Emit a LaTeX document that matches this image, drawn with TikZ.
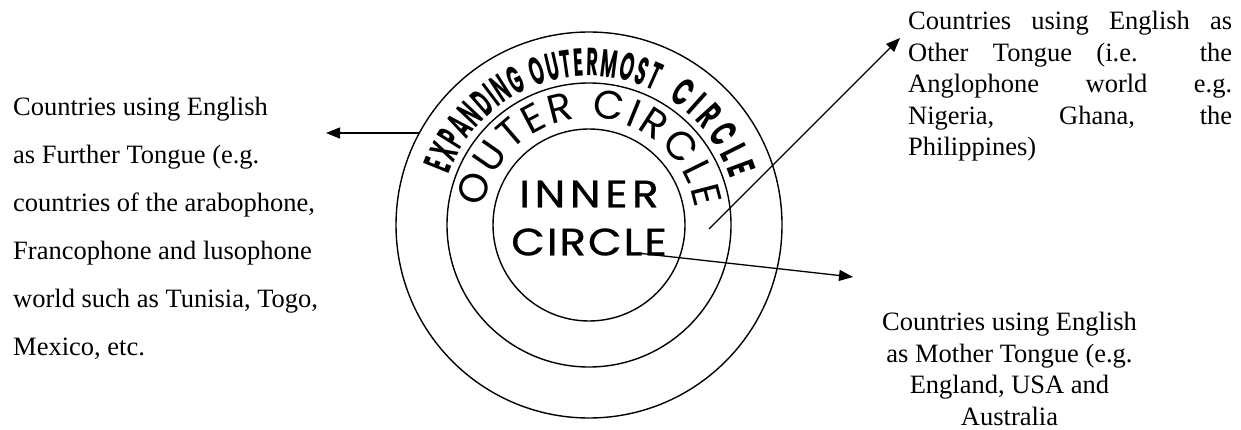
\documentclass[tikz,border=0pt]{standalone}
\usepackage{fontspec}
\setmainfont{Liberation Serif}
\newfontfamily\ringfont{Poppins}
\newfontfamily\corefont[FakeStretch=1.15, LetterSpace=12, FakeBold=0.8]{Poppins}
\newfontfamily\bandfont[FakeStretch=0.46]{Poppins}
\newfontfamily\bandwidefont[FakeStretch=0.58]{Poppins}
\usetikzlibrary{arrows.meta,calc,decorations.text}

\begin{document}
\begin{tikzpicture}[x=1pt, y=1pt,
    ring/.style={line width=1.4pt},
    pointer/.style={line width=1.3pt, -{Triangle[length=14pt, width=11pt]}},
    note/.style={inner sep=0pt, font={\fontsize{26.5}{31.5}\selectfont}}]
    \useasboundingbox (0,0) rectangle (1241,-430);
    \coordinate (C) at (589,-225);
    \draw[ring] (C) circle[radius=193pt];
    \draw[ring] (C) circle[radius=142pt];
    \draw[ring] (C) circle[radius=96pt];
    % labels bent round the rings
    \path[decorate, decoration={text along path, text align=fit to path,
        text={|\bandfont\bfseries\fontsize{39}{39}\selectfont|EXPANDING OUTERMOST}}]
        ($(C)+(160:149pt)$) arc[start angle=160, end angle=64, radius=149pt];
    \path[decorate, decoration={text along path, text align=fit to path,
        text={|\bandwidefont\bfseries\fontsize{39}{39}\selectfont|CIRCLE}}]
        ($(C)+(58:149pt)$) arc[start angle=58, end angle=18, radius=149pt];
    \path[decorate, decoration={text along path, text align=fit to path,
        text={|\ringfont\fontsize{40}{40}\selectfont|OUTER CIRCLE}}]
        ($(C)+(171:107pt)$) arc[start angle=171, end angle=9, radius=107pt];
    \node[font={\corefont\fontsize{38}{38}\selectfont}] (inner) at (589,-194) {INNER};
    \node[font={\corefont\addfontfeature{LetterSpace=5}\fontsize{38}{38}\selectfont}] (innerb) at (589,-242) {CIRCLE};
    % side notes
    \node[note, anchor=north west, align=left, font={\fontsize{26.5}{48}\selectfont}] (further) at (13,-97)
        {Countries using English\\ as Further Tongue (e.g.\\ countries of the arabophone,\\ Francophone and lusophone\\ world such as Tunisia, Togo,\\ Mexico, etc.};
    \node[note, anchor=north west, text width=324pt, align=justify] (other) at (908,-11)
        {Countries using English as\linebreak Other Tongue (i.e. the\linebreak Anglophone world e.g.\linebreak Nigeria, Ghana, the\linebreak Philippines)};
    \node[note, anchor=north, align=center] (mother) at (1009.5,-312)
        {Countries using English\\ as Mother Tongue (e.g.\\ England, USA and\\ Australia};
    % arrows
    \coordinate (fromL) at (420,-133);
    \coordinate (toL) at (326,-133);
    \coordinate (fromR) at (709,-229);
    \coordinate (toR) at (900,-38);
    \coordinate (fromM) at (637,-253);
    \coordinate (toM) at (853,-277);
    \draw[pointer] (fromL) -- (toL);
    \draw[pointer] (fromR) -- (toR);
    \draw[pointer] (fromM) -- (toM);
\end{tikzpicture}
\end{document}
